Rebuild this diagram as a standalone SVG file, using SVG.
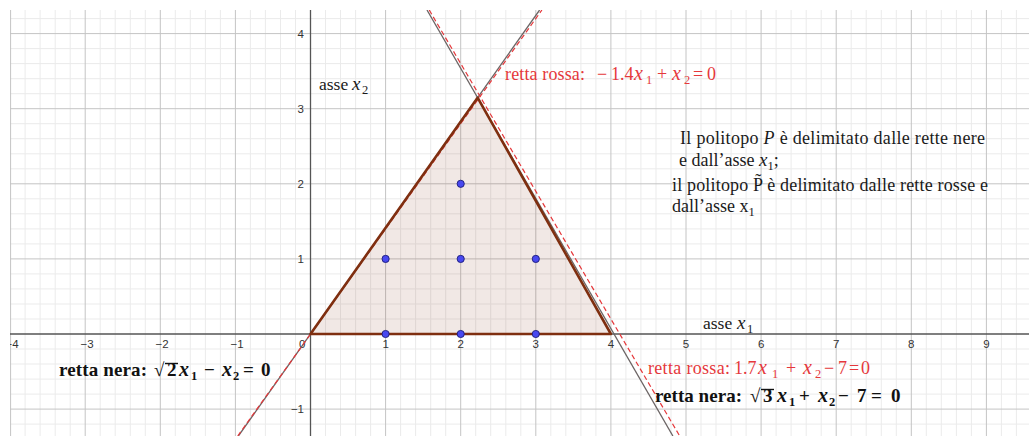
<svg xmlns="http://www.w3.org/2000/svg" width="1029" height="436" viewBox="0 0 1029 436">
<style>
.minor{stroke:#ebebeb;stroke-width:1;fill:none}
.major{stroke:#c4c4c4;stroke-width:1;fill:none}
.axis{stroke:#555;stroke-width:1.3;fill:none}
.tick{font-family:"Liberation Sans",Arial,sans-serif;font-size:11.5px;fill:#333}
.tx{text-anchor:middle}
.ty{text-anchor:end}
.blk{stroke:#6b6464;stroke-width:1.3;fill:none}
.rd{stroke:#e5383b;stroke-width:1.2;stroke-dasharray:5,3;fill:none}
.poly{fill:#7f2f10;fill-opacity:0.11;stroke:#7f2f10;stroke-width:2.6;stroke-linejoin:round}
.pt{fill:#4848f0;stroke:#1c1c78;stroke-width:0.9}
.serif{font-family:"Liberation Serif","Times New Roman",serif;font-size:18px;fill:#1a1a1a}
.red{font-family:"Liberation Serif","Times New Roman",serif;font-size:18px;fill:#e5383b}
.bold{font-family:"Liberation Serif","Times New Roman",serif;font-size:19px;font-weight:bold;fill:#111}
.it{font-style:italic;font-size:20px}
.sub{font-size:12.5px}
</style>
<defs>
<clipPath id="plot"><rect x="10" y="10" width="1019" height="426"/></clipPath>
</defs>
<rect x="0" y="0" width="1029" height="436" fill="#fff"/>
<g id="grid" clip-path="url(#plot)">
<path class="minor" d="M25.1 10V436M40.1 10V436M55.2 10V436M70.2 10V436M100.2 10V436M115.2 10V436M130.3 10V436M145.3 10V436M175.3 10V436M190.3 10V436M205.4 10V436M220.4 10V436M250.4 10V436M265.4 10V436M280.5 10V436M295.5 10V436M325.5 10V436M340.5 10V436M355.6 10V436M370.6 10V436M400.6 10V436M415.6 10V436M430.7 10V436M445.7 10V436M475.7 10V436M490.7 10V436M505.8 10V436M520.8 10V436M550.8 10V436M565.8 10V436M580.9 10V436M595.9 10V436M625.9 10V436M640.9 10V436M656 10V436M671 10V436M701 10V436M716 10V436M731.1 10V436M746.1 10V436M776.1 10V436M791.1 10V436M806.2 10V436M821.2 10V436M851.2 10V436M866.2 10V436M881.3 10V436M896.3 10V436M926.3 10V436M941.3 10V436M956.4 10V436M971.4 10V436M1001.4 10V436M1016.4 10V436
M10 424.1H1029M10 394.1H1029M10 379.1H1029M10 364H1029M10 349H1029M10 319H1029M10 304H1029M10 288.9H1029M10 273.9H1029M10 243.9H1029M10 228.9H1029M10 213.8H1029M10 198.8H1029M10 168.8H1029M10 153.8H1029M10 138.7H1029M10 123.7H1029M10 93.7H1029M10 78.7H1029M10 63.6H1029M10 48.6H1029M10 18.6H1029"/>
<path class="major" d="M10.6 10V436M85.2 10V436M160.3 10V436M235.4 10V436M385.6 10V436M460.7 10V436M535.8 10V436M610.9 10V436M686 10V436M761.1 10V436M836.2 10V436M911.3 10V436M986.4 10V436
M10 409.1H1029M10 258.9H1029M10 183.8H1029M10 108.7H1029M10 33.6H1029"/>
<path class="axis" d="M310.5 10V436M10 334H1029"/>
</g>
<g id="ticks" class="tick" clip-path="url(#plot)">
<text class="tx" x="12" y="348">−4</text>
<text class="tx" x="87" y="348">−3</text>
<text class="tx" x="162" y="348">−2</text>
<text class="tx" x="237" y="348">−1</text>
<text x="299" y="348">0</text>
<text class="tx" x="385.6" y="348">1</text>
<text class="tx" x="460.7" y="348">2</text>
<text class="tx" x="535.8" y="348">3</text>
<text class="tx" x="610.9" y="348">4</text>
<text class="tx" x="686" y="348">5</text>
<text class="tx" x="761.1" y="348">6</text>
<text class="tx" x="836.2" y="348">7</text>
<text class="tx" x="911.3" y="348">8</text>
<text class="tx" x="986.4" y="348">9</text>
<text class="ty" x="304" y="413.1">−1</text>
<text class="ty" x="304" y="262.9">1</text>
<text class="ty" x="304" y="187.8">2</text>
<text class="ty" x="304" y="112.7">3</text>
<text class="ty" x="304" y="37.6">4</text>
</g>
<g id="politopo">
<polygon class="poly" style="stroke:none" points="310.5,334 477.6,97.7 610.9,334"/>
</g>
<g id="connectors" clip-path="url(#plot)">
<line class="blk" x1="238.4" y1="436" x2="539.6" y2="10"/>
<line class="blk" x1="427" y1="10" x2="672.9" y2="436"/>
<line class="rd" x1="237.7" y1="436" x2="541.9" y2="10"/>
<line class="rd" x1="429.2" y1="10" x2="679.7" y2="436"/>
</g>
<g id="politopo-bordo">
<polygon class="poly" style="fill:none" points="310.5,334 477.6,97.7 610.9,334"/>
</g>
<g id="punti">
<circle class="pt" cx="385.6" cy="334" r="3.6"/>
<circle class="pt" cx="460.7" cy="334" r="3.6"/>
<circle class="pt" cx="535.8" cy="334" r="3.6"/>
<circle class="pt" cx="385.6" cy="258.9" r="3.6"/>
<circle class="pt" cx="460.7" cy="258.9" r="3.6"/>
<circle class="pt" cx="535.8" cy="258.9" r="3.6"/>
<circle class="pt" cx="460.7" cy="183.8" r="3.6"/>
</g>
<g id="asse-x2">
<text class="serif" style="font-size:17.5px" x="319" y="90">asse <tspan x="352" class="it" style="font-size:19px">x</tspan><tspan class="sub" x="362" dy="4">2</tspan></text>
</g>
<g id="asse-x1">
<text class="serif" style="font-size:17.5px" x="703" y="329">asse <tspan x="737" class="it" style="font-size:19px">x</tspan><tspan class="sub" x="747" dy="4">1</tspan></text>
</g>
<g id="retta-rossa-1">
<text class="red" y="80"><tspan x="505" textLength="80" lengthAdjust="spacing">retta rossa:</tspan><tspan x="597">−</tspan><tspan x="611">1.4</tspan><tspan x="634" class="it">x</tspan><tspan class="sub" x="646" dy="4">1</tspan><tspan x="657" dy="-4">+</tspan><tspan x="672" class="it">x</tspan><tspan class="sub" x="684" dy="4">2</tspan><tspan x="693" dy="-4">=</tspan><tspan x="707">0</tspan></text>
</g>
<g id="retta-rossa-2">
<text class="red" y="374"><tspan x="648" textLength="82" lengthAdjust="spacing">retta rossa:</tspan><tspan x="734">1.7</tspan><tspan x="758" class="it">x</tspan><tspan class="sub" x="772" dy="4">1</tspan><tspan x="786" dy="-4">+</tspan><tspan x="803" class="it">x</tspan><tspan class="sub" x="815" dy="4">2</tspan><tspan x="824" dy="-4">−</tspan><tspan x="838">7</tspan><tspan x="849">=</tspan><tspan x="861">0</tspan></text>
</g>
<g id="retta-nera-1">
<text class="bold" y="376"><tspan x="59" textLength="88" lengthAdjust="spacing">retta nera:</tspan><tspan x="154">√</tspan><tspan x="167">2</tspan><tspan x="179" class="it">x</tspan><tspan class="sub" x="191" dy="4">1</tspan><tspan x="204" dy="-4">−</tspan><tspan x="222" class="it">x</tspan><tspan class="sub" x="233" dy="4">2</tspan><tspan x="243" dy="-4">=</tspan><tspan x="261">0</tspan></text>
<line x1="165" y1="363.5" x2="178" y2="363.5" stroke="#111" stroke-width="1.4"/>
</g>
<g id="retta-nera-2">
<text class="bold" y="402"><tspan x="655" textLength="87" lengthAdjust="spacing">retta nera:</tspan><tspan x="750">√</tspan><tspan x="763">3</tspan><tspan x="777" class="it">x</tspan><tspan class="sub" x="789" dy="4">1</tspan><tspan x="799" dy="-4">+</tspan><tspan x="818" class="it">x</tspan><tspan class="sub" x="829" dy="4">2</tspan><tspan x="838" dy="-4">−</tspan><tspan x="857">7</tspan><tspan x="871">=</tspan><tspan x="891">0</tspan></text>
<line x1="761" y1="389.5" x2="774" y2="389.5" stroke="#111" stroke-width="1.4"/>
</g>
<g id="descrizione">
<text class="serif" x="680" y="144" textLength="305" lengthAdjust="spacing">Il politopo <tspan class="it" style="font-size:18px">P</tspan> è delimitato dalle rette nere</text>
<text class="serif" x="679" y="166">e dall’asse <tspan class="it" style="font-size:19px">x</tspan><tspan class="sub" dy="4">1</tspan><tspan dy="-4">;</tspan></text>
<text class="serif" x="672" y="191" textLength="316" lengthAdjust="spacing">il politopo P̃ è delimitato dalle rette rosse e</text>
<text class="serif" x="672" y="212">dall’asse x<tspan class="sub" dy="4">1</tspan></text>
</g>
</svg>
